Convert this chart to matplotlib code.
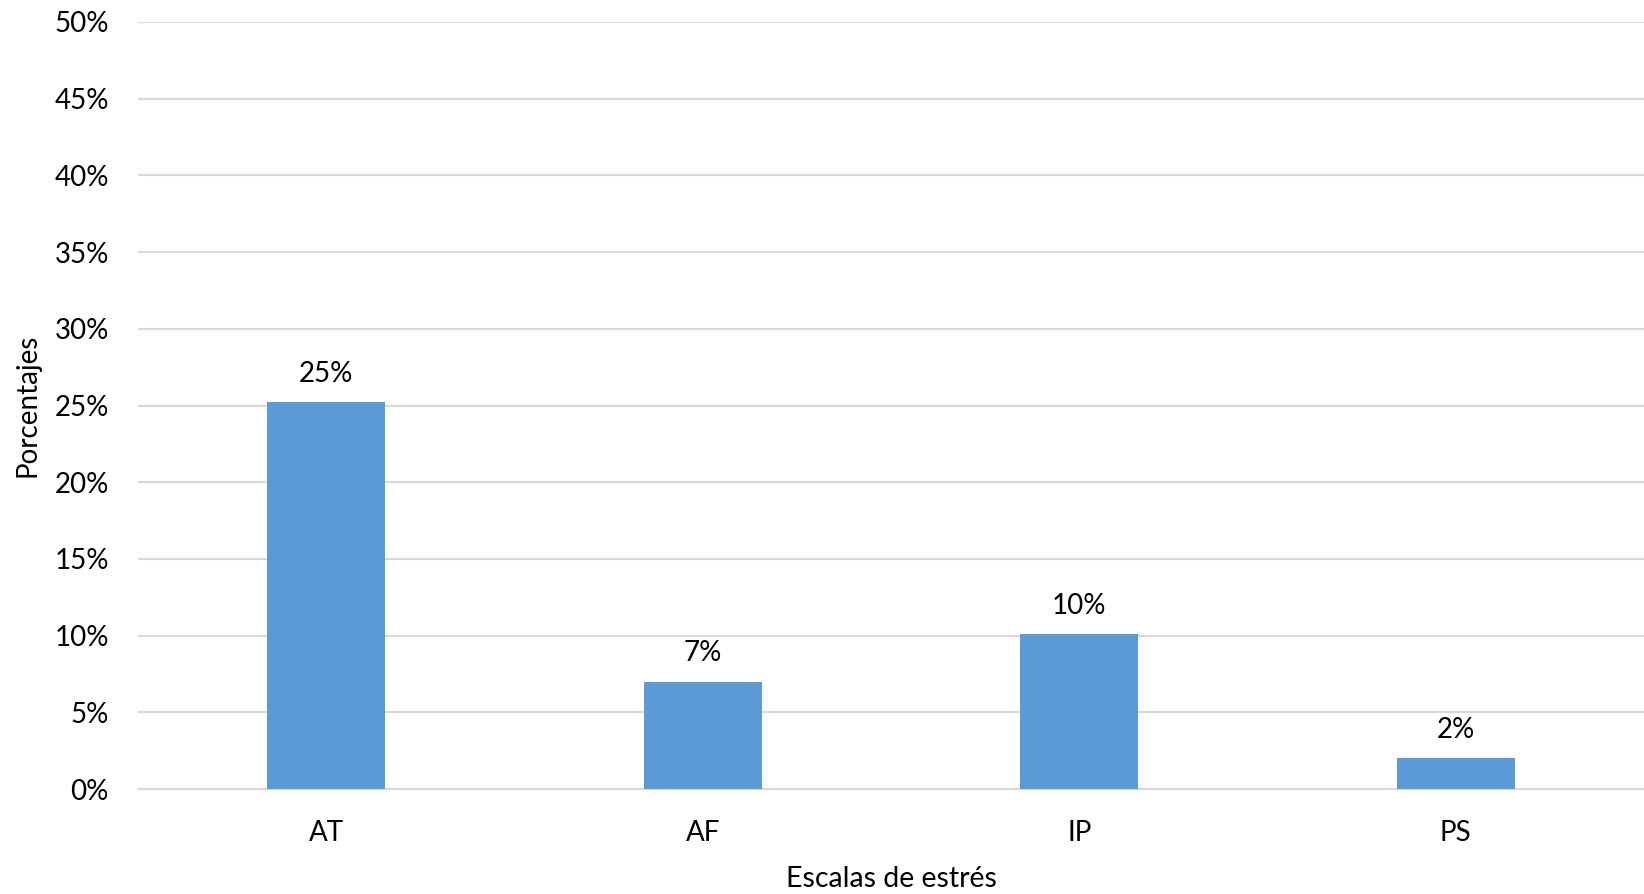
import numpy as np
import matplotlib
matplotlib.use('Agg')
import matplotlib.pyplot as plt
from matplotlib.ticker import PercentFormatter

plt.rcParams['font.family'] = ['Lato', 'DejaVu Sans']

categories = ['AT', 'AF', 'IP', 'PS']
values = [0.252, 0.070, 0.101, 0.020]
labels = ['25%', '7%', '10%', '2%']
yticks = np.arange(0, 0.51, 0.05)

fig = plt.figure(figsize=(16.44, 8.94), dpi=100)
ax = fig.add_axes([138 / 1644, 1 - 789 / 894, 1 - 138 / 1644, (789 - 22) / 894])

x = np.arange(len(categories))
bars = ax.bar(x, values, width=0.313, color='#5B9BD5', zorder=3)

for b, lab in zip(bars, labels):
    ax.annotate(lab, (b.get_x() + b.get_width() / 2, b.get_height()),
                xytext=(0, 11), textcoords='offset points',
                ha='center', va='bottom', fontsize=20, color='#000000')

ax.set_xlim(-0.5, 3.5)
ax.set_ylim(0, 0.5)
ax.set_yticks(yticks)
ax.yaxis.set_major_formatter(PercentFormatter(1.0, decimals=0))
ax.set_xticks(x)
ax.set_xticklabels(categories)
ax.grid(axis='y', color='#D9D9D9', linewidth=1.5, zorder=0)
for s in ['top', 'right', 'left']:
    ax.spines[s].set_visible(False)
ax.spines['bottom'].set_color('#D9D9D9')
ax.spines['bottom'].set_linewidth(1.5)
ax.tick_params(axis='both', length=0, labelsize=20, colors='#000000')
ax.tick_params(axis='y', pad=21)
ax.tick_params(axis='x', pad=22)

ax.set_ylabel('Porcentajes', fontsize=20, labelpad=10)
ax.set_xlabel('Escalas de estrés', fontsize=20.5, labelpad=15)

fig.savefig('out.png', dpi=100)
